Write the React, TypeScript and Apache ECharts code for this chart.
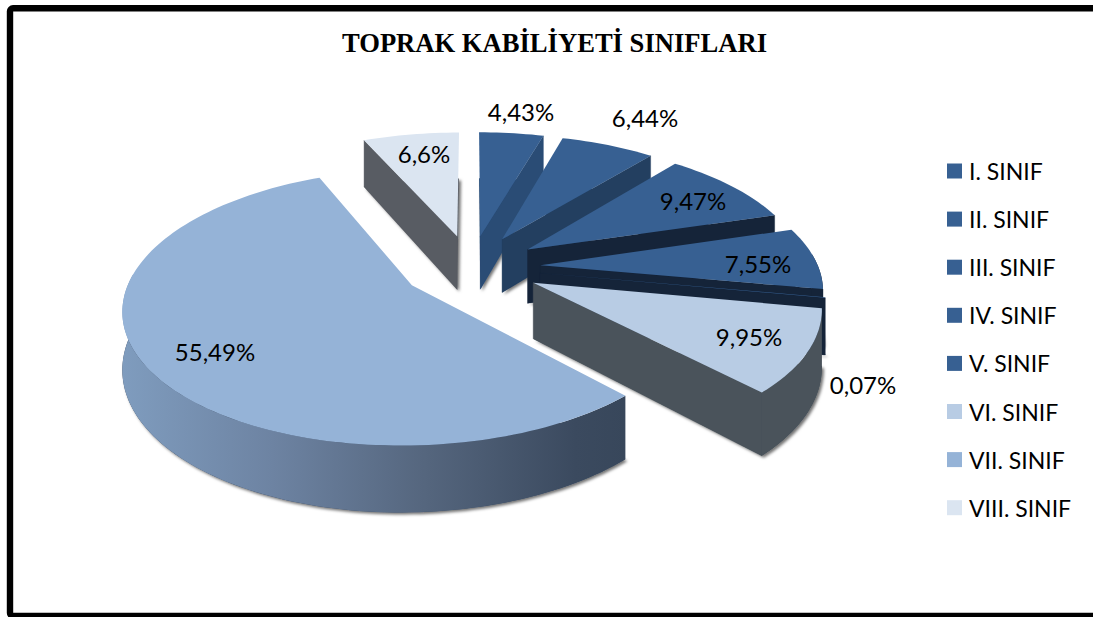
import React, { useEffect, useRef } from "react";
import * as echarts from "echarts";

const titleText = "TOPRAK KABİLİYETİ SINIFLARI";
const categories = ["I. SINIF", "II. SINIF", "III. SINIF", "IV. SINIF", "V. SINIF", "VI. SINIF", "VII. SINIF", "VIII. SINIF"];
const shares = [4.43, 6.44, 9.47, 7.55, 0.07, 9.95, 55.49, 6.6];

// back-to-front painting order (indexes into the arrays above)
const paintOrder = [7, 0, 1, 2, 3, 4, 5, 6];

const topColors = ["#376092", "#376092", "#376092", "#376092", "#376092", "#B8CCE4", "#95B3D7", "#DBE5F1"];
const wallColors = ["#2A4C75", "#233F60", "#152439", "#152439", "#152439", "#4A535B", "#3A495E", "#585C63"];
const labelXY = [[521, 111], [645, 117], [693, 200], [758, 263], [863, 384], [749, 336], [215, 351], [424, 153]];

const CX = 471, CY = 267, AX = 278, BY = 129, PERSP = 0.156, DEPTH = 55, EXPLODE = 0.25;
const FONT = "Lato";
const rad = (d: number) => (d * Math.PI) / 180;

function project(u: number, v: number, down: number): [number, number] {
  const w = 1 + PERSP * v;
  return [CX + (AX * u) / w, CY - (BY * v) / w + down / w];
}

const vii = new echarts.graphic.LinearGradient(0, 0, 1, 0, [
  { offset: 0, color: "#7F9CBE" },
  { offset: 0.3, color: "#6D83A2" },
  { offset: 0.6, color: "#55667E" },
  { offset: 0.9, color: "#3B4A5F" },
  { offset: 1, color: "#38475B" },
]);

function renderSlice(index: number) {
  return (_params: any, api: any) => {
    const value = api.value(0) as number;
    const before = api.value(1) as number;
    const a1 = (before / 100) * 360;
    const a2 = ((before + value) / 100) * 360;
    const mid = rad((a1 + a2) / 2);
    const ou = EXPLODE * Math.sin(mid);
    const ov = EXPLODE * Math.cos(mid);
    const at = (deg: number, down: number) => project(ou + Math.sin(rad(deg)), ov + Math.cos(rad(deg)), down);
    const apex = (down: number) => project(ou, ov, down);
    const arc = (from: number, to: number, down: number) => {
      const n = Math.max(2, Math.ceil(Math.abs(to - from) / 1.5));
      const pts: [number, number][] = [];
      for (let i = 0; i <= n; i++) pts.push(at(from + ((to - from) * i) / n, down));
      return pts;
    };
    const wallFill = index === 6 ? vii : wallColors[index];
    const children: any[] = [];
    const poly = (points: [number, number][], style: any) =>
      children.push({ type: "polygon", shape: { points }, style, silent: true });

    poly([apex(DEPTH), ...arc(a1, a2, DEPTH)], {
      fill: wallColors[index],
      shadowBlur: 3,
      shadowColor: "rgba(0,0,0,0.55)",
      shadowOffsetX: 2,
      shadowOffsetY: 2,
    });
    const wall = (deg: number) =>
      poly([apex(0), at(deg, 0), at(deg, DEPTH), apex(DEPTH)], {
        fill: wallColors[index],
        stroke: wallColors[index],
        lineWidth: 0.4,
      });
    if (Math.sin(rad(a2)) > 0.001) wall(a2);
    if (Math.sin(rad(a1)) < -0.001) wall(a1);
    const f = Math.max(a1, 85);
    const t = Math.min(a2, 275);
    if (t > f) {
      poly([...arc(f, t, 0), ...arc(t, f, DEPTH)], { fill: wallFill });
    }
    poly([apex(0), ...arc(a1, a2, 0)], { fill: topColors[index] });
    const [lx, ly] = labelXY[index];
    children.push({
      type: "text",
      z2: 100,
      silent: true,
      style: {
        x: lx,
        y: ly,
        text: String(value).replace(".", ",") + "%",
        fill: "#000",
        font: `24px ${FONT}`,
        align: "center",
        verticalAlign: "middle",
      },
    });
    return { type: "group", children };
  };
}

export default function App() {
  const ref = useRef<HTMLDivElement>(null);
  useEffect(() => {
    const chart = echarts.init(ref.current!, null, { renderer: "svg" });
    const cum = shares.map((_, i) => shares.slice(0, i).reduce((s, v) => s + v, 0));
    chart.setOption({
      animation: false,
      backgroundColor: "#fff",
      title: {
        text: titleText,
        left: 549.5,
        top: 24,
        textAlign: "center",
        textStyle: { fontFamily: "Liberation Serif", fontWeight: "bold", fontSize: 26.6, color: "#000" },
      },
      legend: {
        data: categories,
        orient: "vertical",
        left: 947,
        top: 159.5,
        padding: 0,
        icon: "rect",
        itemWidth: 15,
        itemHeight: 15,
        itemGap: 25.1,
        selectedMode: false,
        textStyle: { fontFamily: FONT, fontSize: 23, color: "#000", padding: [0, 0, 0, 2] },
      },
      graphic: [
        {
          type: "rect",
          shape: { x: 10, y: 8.3, width: 1200, height: 607.7, r: 3 },
          style: { fill: "none", stroke: "#000", lineWidth: 6.4 },
          silent: true,
        },
      ],
      series: paintOrder.map((i) => ({
        type: "custom",
        name: categories[i],
        coordinateSystem: "none",
        itemStyle: { color: topColors[i] },
        data: [{ name: categories[i], value: [shares[i], cum[i]] }],
        renderItem: renderSlice(i),
        clip: false,
      })),
    });
    return () => chart.dispose();
  }, []);
  return (
    <div
      ref={ref}
      style={{ position: "fixed", left: 0, top: 0, width: 1093, height: 617, background: "#fff" }}
    />
  );
}
